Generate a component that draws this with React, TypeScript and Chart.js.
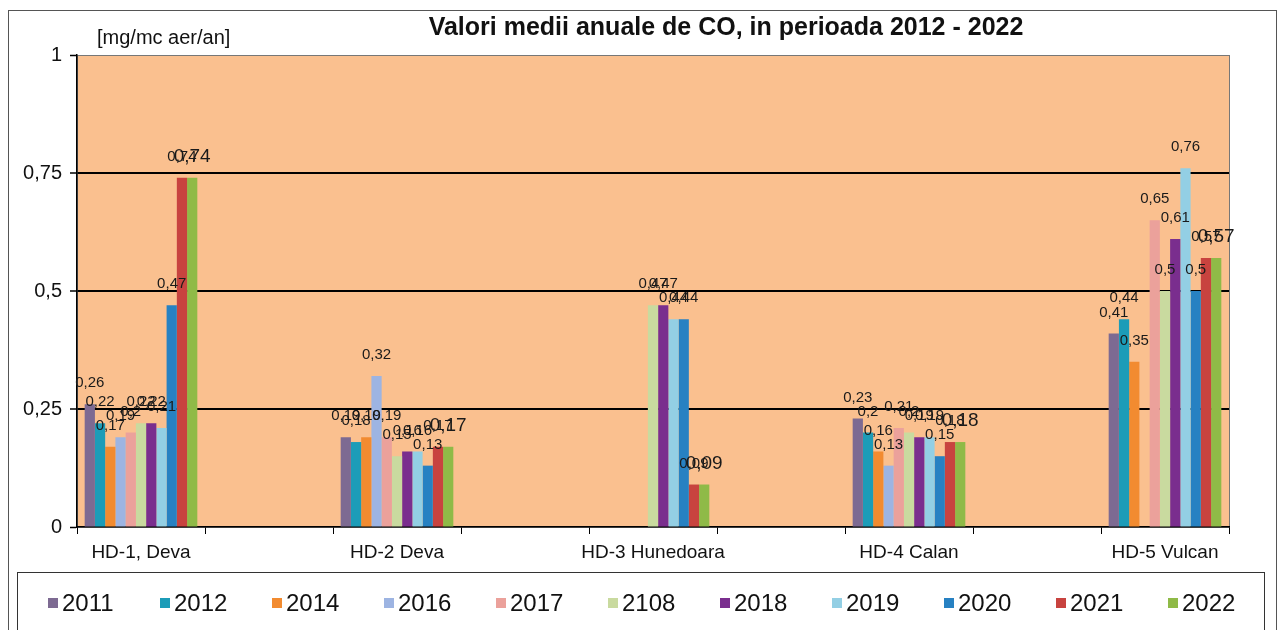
import React, { useEffect, useRef } from 'react';
import { Chart, registerables } from 'chart.js';

Chart.register(...registerables);

// Stations (every station sits in its own category, with an empty spacer category between them)
const stations = ['HD-1, Deva', 'HD-2 Deva', 'HD-3 Hunedoara', 'HD-4 Calan', 'HD-5 Vulcan'];
const seriesNames = ['2011', '2012', '2014', '2016', '2017', '2108', '2018', '2019', '2020', '2021', '2022'];

// Annual mean CO values [mg/mc aer/an], one value per station
const v2011 = [0.26, 0.19, null, 0.23, 0.41];
const v2012 = [0.22, 0.18, null, 0.2, 0.44];
const v2014 = [0.17, 0.19, null, 0.16, 0.35];
const v2016 = [0.19, 0.32, null, 0.13, null];
const v2017 = [0.2, 0.19, null, 0.21, 0.65];
const v2108 = [0.22, 0.15, 0.47, 0.2, 0.5];
const v2018 = [0.22, 0.16, 0.47, 0.19, 0.61];
const v2019 = [0.21, 0.16, 0.44, 0.19, 0.76];
const v2020 = [0.47, 0.13, 0.44, 0.15, 0.5];
const v2021 = [0.74, 0.17, 0.09, 0.18, 0.57];
const v2022 = [0.74, 0.17, 0.09, 0.18, 0.57];

const yTicks = [0, 0.25, 0.5, 0.75, 1];

const seriesValues = [v2011, v2012, v2014, v2016, v2017, v2108, v2018, v2019, v2020, v2021, v2022];
const seriesColors = [
  '#7D6A92', '#1C9CB8', '#F28B30', '#9DB4E2', '#EBA19B', '#C9DA9F',
  '#7A2E8E', '#93CFE4', '#2781C2', '#C8433F', '#8FBA47',
];

const FONT = '"Liberation Sans", Arial, sans-serif';

// spread station values over the 9 categories (station, spacer, station, ...)
const spread = (arr: (number | null)[]) => {
  const out: (number | null)[] = [];
  arr.forEach((v, i) => {
    out.push(v);
    if (i < arr.length - 1) out.push(null);
  });
  return out;
};
const categoryLabels = spread(stations as any).map((s) => (s == null ? '' : s)) as string[];

const fmt = (v: number) => String(v).replace('.', ',');

const decorPlugin = {
  id: 'decor',
  beforeDraw(chart: any) {
    const { ctx, chartArea: a, width, height } = chart;
    ctx.save();
    ctx.fillStyle = '#ffffff';
    ctx.fillRect(0, 0, width, height);
    // outer border
    ctx.strokeStyle = '#555';
    ctx.lineWidth = 1;
    ctx.strokeRect(8.5, 10.5, 1268, 660);
    // plot area
    ctx.fillStyle = '#FAC08F';
    ctx.fillRect(a.left, a.top, a.right - a.left, a.bottom - a.top);
    ctx.strokeStyle = '#777';
    ctx.strokeRect(a.left + 0.5, a.top + 0.5, a.right - a.left, a.bottom - a.top);
    // legend box
    ctx.strokeStyle = '#333';
    ctx.strokeRect(17.5, 572.5, 1247, 80);
    ctx.restore();
  },
  afterDatasetsDraw(chart: any) {
    const ctx = chart.ctx;
    const n = chart.data.datasets.length;
    chart.data.datasets.forEach((ds: any, di: number) => {
      const meta = chart.getDatasetMeta(di);
      meta.data.forEach((bar: any, i: number) => {
        const v = ds.data[i];
        if (v == null) return;
        const big = di === n - 1;
        ctx.save();
        ctx.font = `${big ? 19 : 15}px ${FONT}`;
        ctx.fillStyle = '#1a1a1a';
        ctx.textAlign = 'center';
        ctx.textBaseline = 'middle';
        ctx.fillText(fmt(v), bar.x, bar.y - 21);
        ctx.restore();
      });
    });
  },
  afterDraw(chart: any) {
    const ctx = chart.ctx;
    ctx.save();
    ctx.fillStyle = '#111';
    ctx.textBaseline = 'middle';
    ctx.textAlign = 'center';
    ctx.font = `bold 25px ${FONT}`;
    ctx.fillText('Valori medii anuale de CO, in perioada 2012 - 2022', 726, 28);
    ctx.textAlign = 'left';
    ctx.font = `20px ${FONT}`;
    ctx.fillText('[mg/mc aer/an]', 97, 38);
    // legend
    ctx.font = `24px ${FONT}`;
    seriesNames.forEach((name, i) => {
      const tx = 62 + 112 * i;
      ctx.fillStyle = seriesColors[i];
      ctx.fillRect(tx - 14, 598, 10, 10);
      ctx.fillStyle = '#111';
      ctx.fillText(name, tx, 604);
    });
    ctx.restore();
  },
};

export default function App() {
  const ref = useRef<HTMLCanvasElement>(null);
  useEffect(() => {
    if (!ref.current) return;
    const chart = new Chart(ref.current, {
      type: 'bar',
      data: {
        labels: categoryLabels,
        datasets: seriesNames.map((name, i) => ({
          label: name,
          data: spread(seriesValues[i]),
          backgroundColor: seriesColors[i],
          borderWidth: 0,
          categoryPercentage: 0.88,
          barPercentage: 1,
        })),
      },
      options: {
        responsive: false,
        animation: false,
        devicePixelRatio: 1,
        layout: { padding: { left: 0, top: 55, right: 53, bottom: 0 } },
        plugins: { legend: { display: false }, title: { display: false }, tooltip: { enabled: false } },
        scales: {
          x: {
            afterFit: (s: any) => { s.height = 103; },
            grid: {
              offset: true,
              drawOnChartArea: false,
              drawTicks: true,
              tickLength: 7,
              color: '#000',
              lineWidth: 1,
            },
            border: { color: '#000', width: 1.5 },
            ticks: {
              autoSkip: false,
              maxRotation: 0,
              minRotation: 0,
              padding: 7,
              color: '#111',
              font: { family: FONT, size: 19 },
            },
          },
          y: {
            min: 0,
            max: 1,
            afterFit: (s: any) => { s.width = 77; },
            afterBuildTicks: (s: any) => { s.ticks = yTicks.map((v) => ({ value: v })); },
            grid: {
              color: (c: any) => (c.tick && c.tick.value === 0 ? 'rgba(0,0,0,0)' : c.tick && c.tick.value === 1 ? '#777' : '#000'),
              lineWidth: (c: any) => (c.tick && (c.tick.value === 1 || c.tick.value === 0) ? 1 : 2),
              tickColor: '#000',
              tickWidth: 1.5,
              tickLength: 7,
              drawTicks: true,
            },
            border: { color: '#000', width: 1.5 },
            ticks: {
              padding: 8,
              color: '#111',
              font: { family: FONT, size: 20 },
              callback: (v: any) => fmt(Number(v)),
            },
          },
        },
      },
      plugins: [decorPlugin],
    });
    return () => chart.destroy();
  }, []);
  return (
    <div style={{ position: 'fixed', left: 0, top: 0, width: 1282, height: 630 }}>
      <canvas ref={ref} width={1282} height={630} style={{ display: 'block' }} />
    </div>
  );
}
